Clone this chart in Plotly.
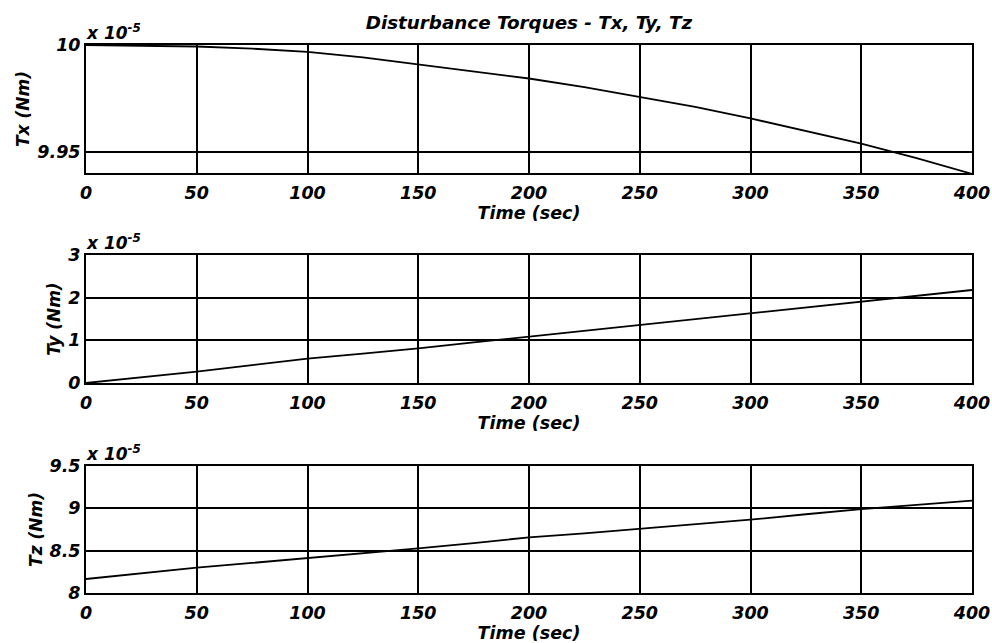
import plotly.graph_objects as go
from plotly.subplots import make_subplots

# time axis (sec)
time_s = [0, 25, 50, 75, 100, 125, 150, 175, 200, 225, 250, 275, 300, 325, 350, 375, 400]

# torques, in units of 1e-5 Nm
tx = [10.000, 9.9998, 9.9993, 9.9983, 9.9968, 9.9942, 9.9910, 9.9878, 9.9843,
      9.9803, 9.9756, 9.9710, 9.9656, 9.9598, 9.9538, 9.9470, 9.9396]
ty = [0.0, 0.13, 0.265, 0.42, 0.57, 0.69, 0.81, 0.95, 1.085,
      1.22, 1.36, 1.495, 1.63, 1.77, 1.905, 2.04, 2.18]
tz = [8.165, 8.23, 8.30, 8.355, 8.41, 8.47, 8.528, 8.59, 8.657,
      8.705, 8.756, 8.81, 8.866, 8.93, 8.99, 9.04, 9.09]

x_ticks = [0, 50, 100, 150, 200, 250, 300, 350, 400]
tx_ticks = [9.95, 10]
tx_labels = ["9.95", "10"]
ty_ticks = [0, 1, 2, 3]
tz_ticks = [8, 8.5, 9, 9.5]
tz_labels = ["8", "8.5", "9", "9.5"]

FONT = dict(family="DejaVu Sans, sans-serif", size=17.5, color="black",
            weight="bold", style="italic")
YLABEL = dict(FONT, size=17)
EXPO = dict(FONT, size=17)

fig = make_subplots(rows=3, cols=1)
for row, vals in enumerate([tx, ty, tz], start=1):
    fig.add_trace(go.Scatter(x=time_s, y=vals, mode="lines",
                             line=dict(color="black", width=1.8),
                             showlegend=False), row=row, col=1)

axis_common = dict(showline=True, linecolor="black", linewidth=2, mirror=True,
                   showgrid=True, gridcolor="black", gridwidth=1.6,
                   zeroline=False, ticks="inside", ticklen=4, tickcolor="black",
                   automargin=False, ticklabeloverflow="allow")

domains = [[0.7664, 1.0], [0.3832, 0.6168], [0.0, 0.2318]]
for i in range(3):
    fig.update_xaxes(range=[0, 400], tickvals=x_ticks, domain=[0, 1],
                     ticklabelstandoff=3,
                     title=dict(text="Time (sec)", standoff=5, font=FONT),
                     row=i + 1, col=1, **axis_common)

fig.update_yaxes(domain=domains[0], range=[9.94, 10], tickvals=tx_ticks, ticktext=tx_labels,
                 title=dict(text="Tx (Nm)", standoff=3, font=YLABEL), row=1, col=1, **axis_common)
fig.update_yaxes(domain=domains[1], range=[0, 3], tickvals=ty_ticks,
                 title=dict(text="Ty (Nm)", standoff=3, font=YLABEL), row=2, col=1, **axis_common)
fig.update_yaxes(domain=domains[2], range=[8, 9.5], tickvals=tz_ticks, ticktext=tz_labels,
                 title=dict(text="Tz (Nm)", standoff=3, font=YLABEL), row=3, col=1, **axis_common)

# MATLAB-style exponent labels above each axis
for dom in domains:
    fig.add_annotation(text="x 10<sup>-5</sup>", xref="paper", yref="paper",
                       x=0.0, y=dom[1], xanchor="left", yanchor="bottom",
                       showarrow=False, font=EXPO, xshift=-2, yshift=0)

fig.update_layout(
    width=992, height=643,
    title=dict(text="Disturbance Torques - Tx, Ty, Tz", x=0.5, xref="paper",
               y=1 - 22.5 / 643, yanchor="middle", font=dict(FONT, size=18.3)),
    font=FONT,
    plot_bgcolor="white", paper_bgcolor="white",
    margin=dict(l=86, r=20, t=45, b=50),
)

# drop the default 8px page margin so the figure fills the window exactly
fig.write_html("out.html", config={"displayModeBar": False},
               post_script="document.body.style.margin = '0';")
